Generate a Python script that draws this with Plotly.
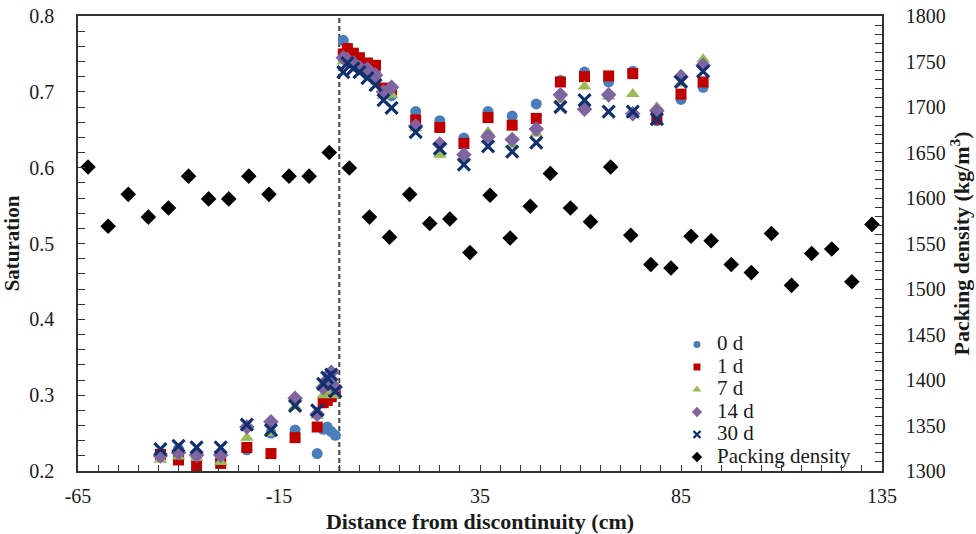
import plotly.graph_objects as go

# ---------------- data ----------------
sat_x = [-44.5, -40, -35.5, -29.5, -23, -17, -11, -5.5, -4, -3, -2, -1,
         1, 2, 3.5, 5, 7, 9, 11, 13,
         19, 25, 31, 37, 43, 49, 55, 61, 67, 73, 79, 85, 90.5]

sat_0d = [0.223, 0.229, 0.218, 0.215, 0.228, 0.250, 0.254, 0.223, 0.255, 0.258, 0.252, 0.247,
          0.768, 0.758, 0.745, 0.740, 0.735, 0.725, 0.700, 0.695,
          0.674, 0.662, 0.639, 0.674, 0.668, 0.684, 0.715, 0.726, 0.713, 0.727, 0.662, 0.690, 0.706]
sat_1d = [0.222, 0.2145, 0.207, 0.210, 0.231, 0.223, 0.244, 0.258, 0.290, 0.293, 0.298, 0.303,
          0.750, 0.757, 0.751, 0.745, 0.738, 0.735, 0.705, 0.702,
          0.663, 0.653, 0.632, 0.666, 0.656, 0.665, 0.713, 0.720, 0.721, 0.724, 0.664, 0.697, 0.713]
sat_7d = [0.215, 0.219, 0.217, 0.212, 0.244, 0.250, 0.285, 0.273, 0.300, 0.305, 0.310, 0.300,
          0.740, 0.745, 0.735, 0.730, 0.725, 0.720, 0.695, 0.696,
          0.652, 0.617, 0.612, 0.647, 0.630, 0.645, 0.689, 0.707, 0.694, 0.697, 0.680, 0.711, 0.743]
sat_14d = [0.220, 0.224, 0.221, 0.221, 0.258, 0.265, 0.296, 0.275, 0.310, 0.320, 0.330, 0.310,
           0.745, 0.742, 0.738, 0.732, 0.730, 0.722, 0.700, 0.706,
           0.655, 0.631, 0.617, 0.641, 0.637, 0.651, 0.696, 0.677, 0.696, 0.671, 0.675, 0.720, 0.735]
sat_30d = [0.229, 0.233, 0.231, 0.231, 0.261, 0.254, 0.286, 0.280, 0.315, 0.323, 0.327, 0.305,
           0.726, 0.738, 0.731, 0.726, 0.718, 0.709, 0.689, 0.679,
           0.647, 0.625, 0.604, 0.628, 0.621, 0.633, 0.680, 0.689, 0.674, 0.674, 0.664, 0.713, 0.727]

dens_x = [-62.5, -57.5, -52.5, -47.5, -42.5, -37.5, -32.5, -27.5, -22.5, -17.5,
          -12.5, -7.5, -2.5, 2.5, 7.5, 12.5, 17.5, 22.5, 27.5, 32.5,
          37.5, 42.5, 47.5, 52.5, 57.5, 62.5, 67.5, 72.5, 77.5, 82.5,
          87.5, 92.5, 97.5, 102.5, 107.5, 112.5, 117.5, 122.5, 127.5, 132.5]
dens_y = [1634, 1569, 1604, 1579, 1589, 1624, 1599, 1599, 1624, 1604,
          1624, 1624, 1650, 1633, 1579, 1557, 1604, 1572, 1577, 1540,
          1603, 1556, 1591, 1627, 1589, 1574, 1634, 1559, 1527, 1523,
          1558, 1553, 1527, 1518, 1561, 1504, 1539, 1544, 1508, 1571]

x_tickvals = [-65, -15, 35, 85, 135]
x_ticktext = ["-65", "-15", "35", "85", "135"]

series_names = ["0 d", "1 d", "7 d", "14 d", "30 d"]
series_vals = [sat_0d, sat_1d, sat_7d, sat_14d, sat_30d]
density_name = "Packing density"

# ---------------- styles ----------------
FONT = "Liberation Serif, Times New Roman, serif"
NAVY = "#12306E"
styles = [
    dict(symbol="circle", color="#4A7EBB", size=11, line=dict(width=0)),
    dict(symbol="square", color="#C00000", size=11, line=dict(width=0)),
    dict(symbol="triangle-up", color="#9BBB59", size=12, line=dict(width=0)),
    dict(symbol="diamond", color="#8064A2", size=12, line=dict(width=0)),
    dict(symbol="x-thin", color=NAVY, size=12, line=dict(width=3.2, color=NAVY)),
]
leg_styles = [
    dict(symbol="circle", color="#4A7EBB", size=7, line=dict(width=0)),
    dict(symbol="square", color="#C00000", size=7, line=dict(width=0)),
    dict(symbol="triangle-up", color="#9BBB59", size=8, line=dict(width=0)),
    dict(symbol="diamond", color="#8064A2", size=8, line=dict(width=0)),
    dict(symbol="x-thin", color=NAVY, size=7, line=dict(width=2.4, color=NAVY)),
]


def leg_label(s):
    return '<span style="font-size:21px">' + s + "</span>"


fig = go.Figure()

# packing density on secondary axis (drawn first, behind)
fig.add_trace(go.Scatter(x=dens_x, y=dens_y, mode="markers", yaxis="y2",
                         marker=dict(symbol="diamond", color="black", size=12, line=dict(width=0)),
                         showlegend=False, name=density_name))

for name, vals, st in zip(series_names, series_vals, styles):
    fig.add_trace(go.Scatter(x=sat_x, y=vals, mode="markers", name=name,
                             marker=st, showlegend=False))

# legend entries (small symbols as in the original)
for name, st in zip(series_names, leg_styles):
    fig.add_trace(go.Scatter(x=[None], y=[None], mode="markers", name=leg_label(name), marker=st))
fig.add_trace(go.Scatter(x=[None], y=[None], mode="markers", name=leg_label(density_name), yaxis="y2",
                         marker=dict(symbol="diamond", color="black", size=8)))

tickfont = dict(family=FONT, size=20, color="#1a1a1a")
titlefont = dict(family=FONT, size=22, color="#1a1a1a")

fig.update_layout(
    width=976, height=534,
    margin=dict(l=78, r=94, t=16, b=63),
    paper_bgcolor="white", plot_bgcolor="white",
    font=dict(family=FONT, color="#1a1a1a"),
    xaxis=dict(range=[-65, 135], tickvals=x_tickvals, ticktext=x_ticktext,
               showgrid=False, zeroline=False, automargin=False,
               ticks="inside", ticklen=6, tickwidth=1.2, tickcolor="#333",
               minor=dict(dtick=5, tick0=-65, ticks="inside", ticklen=6, tickwidth=1.2, tickcolor="#333"),
               showline=True, linecolor="#333", linewidth=1.5, mirror=True,
               tickfont=tickfont, ticklabelstandoff=6,
               title=dict(text="<b>Distance from discontinuity (cm)</b>", font=titlefont, standoff=8)),
    yaxis=dict(range=[0.2, 0.8], dtick=0.1, tickformat=".1f", showgrid=False, zeroline=False,
               automargin=False,
               ticks="inside", ticklen=7, tickwidth=1.2, tickcolor="#333",
               minor=dict(dtick=0.02, ticks="inside", ticklen=7, tickwidth=1.2, tickcolor="#333"),
               showline=True, linecolor="#333", linewidth=1.5, mirror=True,
               tickfont=tickfont, ticklabelstandoff=18,
               title=dict(text="<b>Saturation</b>", font=dict(family=FONT, size=21, color="#1a1a1a"),
                          standoff=4)),
    yaxis2=dict(range=[1300, 1800], dtick=50, overlaying="y", side="right",
                showgrid=False, zeroline=False, automargin=False,
                ticks="inside", ticklen=7, tickwidth=1.2, tickcolor="#333",
                minor=dict(dtick=10, ticks="inside", ticklen=7, tickwidth=1.2, tickcolor="#333"),
                showline=True, linecolor="#333", linewidth=1.5,
                tickfont=tickfont, ticklabelstandoff=18,
                title=dict(text="<b>Packing density (kg/m<sup>3</sup>)</b>", font=titlefont, standoff=2)),
    legend=dict(x=0.745, y=-0.005, xanchor="left", yanchor="bottom",
                bgcolor="rgba(255,255,255,0)", borderwidth=0,
                font=dict(family=FONT, size=15, color="#1a1a1a"),
                itemwidth=30, tracegroupgap=0),
    shapes=[dict(type="line", xref="x", yref="paper", x0=0, x1=0, y0=0, y1=1,
                 line=dict(color="#444", width=2, dash="5px,3px"), layer="below")],
)

fig.write_html("out.html")
